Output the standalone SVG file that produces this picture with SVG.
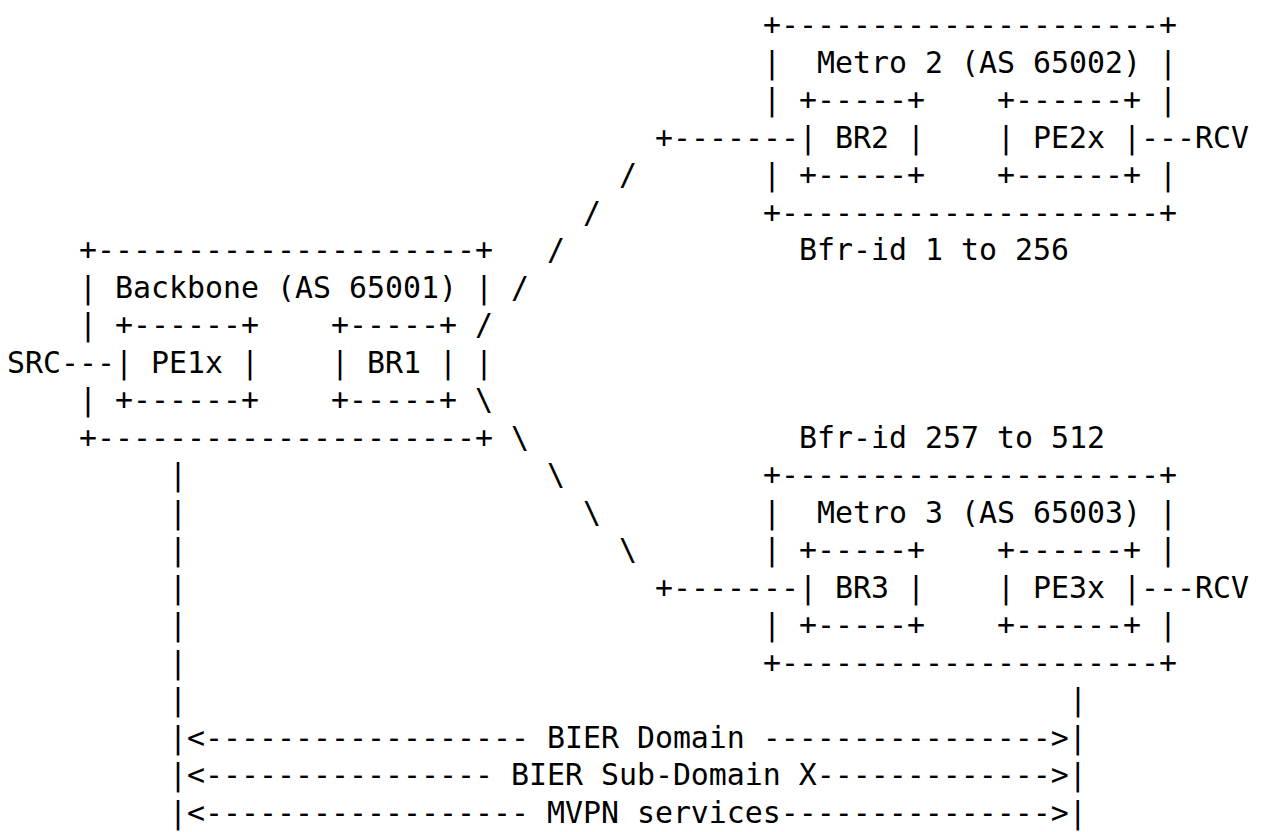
<svg xmlns="http://www.w3.org/2000/svg" width="1265" height="832" viewBox="0 0 1265 832" xml:space="preserve">
<style>
text { font-family: "DejaVu Sans Mono", "Liberation Mono", monospace; font-size: 29.9px; fill: #000; white-space: pre; }
</style>
<rect x="0" y="0" width="1265" height="832" fill="#fff"/>
<g id="metro2">
<text x="763" y="35">+---------------------+</text>
<text x="763" y="72.5">|  Metro 2 (AS 65002) |</text>
<text x="763" y="110">| +-----+    +------+ |</text>
<text x="799" y="147.5">| BR2 |    | PE2x |</text>
<text x="763" y="185">| +-----+    +------+ |</text>
<text x="763" y="222.5">+---------------------+</text>
<text x="799" y="260">Bfr-id 1 to 256</text>
</g>
<g id="backbone">
<text x="79" y="260">+---------------------+</text>
<text x="79" y="297.5">| Backbone (AS 65001) |</text>
<text x="79" y="335">| +------+    +-----+</text>
<text x="115" y="372.5">| PE1x |    | BR1 | |</text>
<text x="79" y="410">| +------+    +-----+</text>
<text x="79" y="447.5">+---------------------+</text>
</g>
<g id="metro3">
<text x="799" y="447.5">Bfr-id 257 to 512</text>
<text x="763" y="485">+---------------------+</text>
<text x="763" y="522.5">|  Metro 3 (AS 65003) |</text>
<text x="763" y="560">| +-----+    +------+ |</text>
<text x="799" y="597.5">| BR3 |    | PE3x |</text>
<text x="763" y="635">| +-----+    +------+ |</text>
<text x="763" y="672.5">+---------------------+</text>
</g>
<g id="src"><text x="7" y="372.5">SRC</text></g>
<g id="rcv2"><text x="1195" y="147.5">RCV</text></g>
<g id="rcv3"><text x="1195" y="597.5">RCV</text></g>
<g id="connectors">
<text x="61" y="372.5">---</text>
<text x="655" y="147.5">+-------</text>
<text x="1141" y="147.5">---</text>
<text x="655" y="597.5">+-------</text>
<text x="1141" y="597.5">---</text>
<text x="619" y="185">/</text>
<text x="583" y="222.5">/</text>
<text x="547" y="260">/</text>
<text x="511" y="297.5">/</text>
<text x="475" y="335">/</text>
<text x="475" y="410">\</text>
<text x="511" y="447.5">\</text>
<text x="547" y="485">\</text>
<text x="583" y="522.5">\</text>
<text x="619" y="560">\</text>
</g>
<g id="scope">
<text x="169" y="485">|</text>
<text x="169" y="522.5">|</text>
<text x="169" y="560">|</text>
<text x="169" y="597.5">|</text>
<text x="169" y="635">|</text>
<text x="169" y="672.5">|</text>
<text x="169" y="710">|</text>
<text x="1069" y="710">|</text>
<text x="169" y="747.5">|&lt;------------------ BIER Domain ----------------&gt;|</text>
<text x="169" y="785">|&lt;---------------- BIER Sub-Domain X-------------&gt;|</text>
<text x="169" y="822.5">|&lt;------------------ MVPN services---------------&gt;|</text>
</g>
</svg>
